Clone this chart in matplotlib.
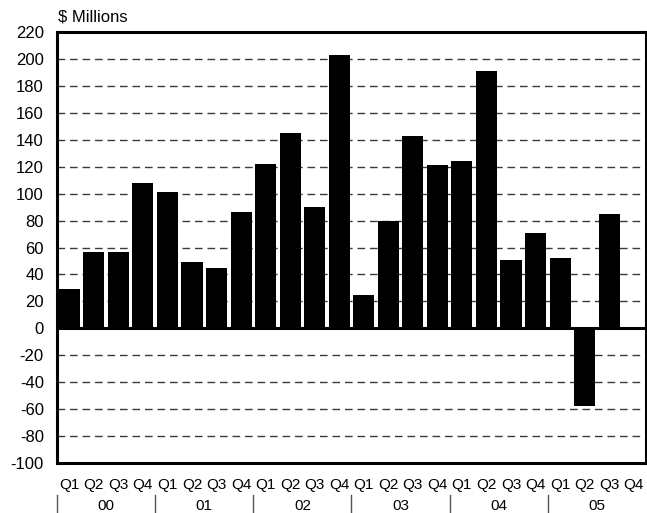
import numpy as np
import matplotlib
matplotlib.use("Agg")
import matplotlib.pyplot as plt
from matplotlib.lines import Line2D

plt.rcParams['font.family'] = ['Liberation Sans', 'DejaVu Sans']

# Quarterly results, 2000 Q1 through 2005 Q4 ($ millions); 2005 Q4 not reported
years = ["00", "01", "02", "03", "04", "05"]
quarters = ["Q1", "Q2", "Q3", "Q4"]
values = [29, 57, 57, 108,
          101, 49, 45, 86,
          122, 145, 90, 203,
          25, 80, 143, 121,
          124, 191, 51, 71,
          52, -58, 85, np.nan]
y_ticks = list(range(-100, 221, 20))

W, H = 647, 513
fig = plt.figure(figsize=(W / 100, H / 100), dpi=100)
left, right, top, bottom = 57, 646, 32, 463
ax = fig.add_axes([left / W, 1 - bottom / H, (right - left) / W, (bottom - top) / H])

x = np.arange(len(values))
ax.bar(x, values, width=0.86, color="black", zorder=3)

ax.set_xlim(-0.5, len(values) - 0.5)
ax.set_ylim(-100, 220)
ax.set_yticks(y_ticks)
ax.set_yticklabels([str(v) for v in y_ticks], fontsize=12)
ax.tick_params(axis="y", length=0, pad=9.5)
ax.set_xticks([])

# dashed horizontal grid
for v in y_ticks:
    if v in (-100, 0, 220):
        continue
    ax.axhline(v, color="#3a3a3a", lw=1.0, ls=(0, (5.5, 3.5)), zorder=1)
ax.axhline(0, color="black", lw=2.2, zorder=4)

for s in ax.spines.values():
    s.set_linewidth(2.2)
    s.set_color("black")

# quarter labels and year groups below the axis
tr = ax.get_xaxis_transform()
fig_h_axes = (bottom - top)
def ypos(py):
    return (bottom - py) / fig_h_axes

q_labels = quarters * len(years)
for i, q in enumerate(q_labels):
    ax.text(i, ypos(485), q, ha="center", va="center", fontsize=11,
            transform=tr, clip_on=False)
for k, yr in enumerate(years):
    ax.text(4 * k + 1.5, ypos(506), yr, ha="center", va="center", fontsize=11,
            transform=tr, clip_on=False)
    xb = 4 * k - 0.5
    ax.add_line(Line2D([xb, xb], [ypos(495), ypos(513)], transform=tr,
                       color="#555555", lw=1.0, clip_on=False))

fig.text(58 / W, 1 - 17 / H, "$ Millions", ha="left", va="center", fontsize=12)

fig.savefig("out.png", dpi=100)
